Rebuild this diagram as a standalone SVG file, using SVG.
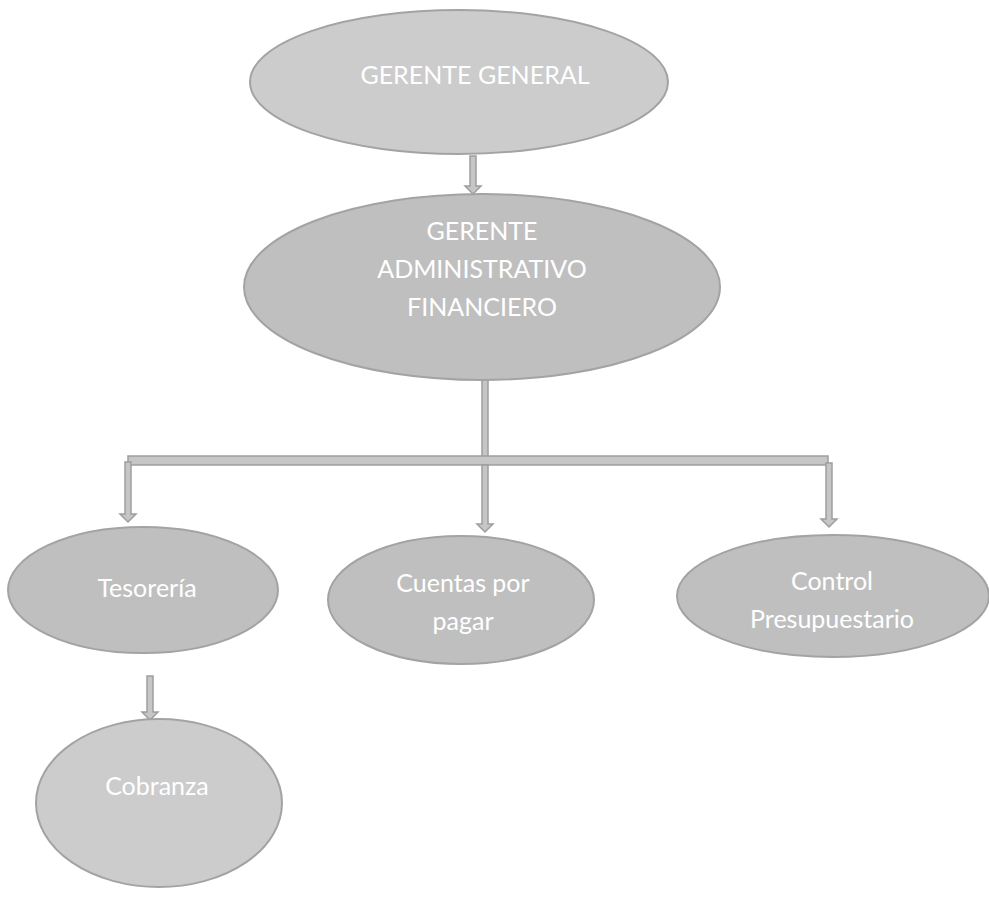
<svg xmlns="http://www.w3.org/2000/svg" width="989" height="903" viewBox="0 0 989 903">
  <style>
    .node { stroke: #a3a3a3; stroke-width: 2; }
    .light { fill: #cccccc; }
    .mid { fill: #bfbfbf; }
    .label { font-family: Lato, "Liberation Sans", sans-serif; font-size: 25px; fill: #ffffff; text-anchor: middle; }
    .conn { fill: #c6c6c6; stroke: #9e9e9e; stroke-width: 1.5; stroke-linejoin: miter; }
  </style>
  <rect width="989" height="903" fill="#ffffff"/>

  <!-- connectors -->
  <g id="connectors">
    <!-- general manager to administrative/financial manager -->
    <polygon class="conn" points="470,156 476,156 476,186 481,186 473,194 465,186 470,186"/>
    <!-- trunk down to the distribution bar -->
    <rect class="conn" x="482" y="374" width="6" height="83"/>
    <rect class="conn" x="128" y="456" width="700" height="9"/>
    <!-- branch arrows -->
    <polygon class="conn" points="125,462 131,462 131,514 136,514 128,522 120,514 125,514"/>
    <polygon class="conn" points="482,465 488,465 488,524 493,524 485,532 477,524 482,524"/>
    <polygon class="conn" points="826,463 832,463 832,519 837,519 829,527 821,519 826,519"/>
    <!-- treasury to collections -->
    <polygon class="conn" points="147,676 153,676 153,712 158,712 150,720 142,712 147,712"/>
  </g>

  <g id="gerente-general">
    <ellipse class="node light" cx="459" cy="82" rx="209" ry="72"/>
    <text class="label" x="475" y="84">GERENTE GENERAL</text>
  </g>

  <g id="gerente-administrativo">
    <ellipse class="node mid" cx="482" cy="287" rx="238" ry="93"/>
    <text class="label" x="482" y="240">GERENTE</text>
    <text class="label" x="482" y="278">ADMINISTRATIVO</text>
    <text class="label" x="482" y="316">FINANCIERO</text>
  </g>

  <g id="tesoreria">
    <ellipse class="node mid" cx="143" cy="590" rx="135" ry="63"/>
    <text class="label" x="147" y="597">Tesorería</text>
  </g>

  <g id="cuentas-por-pagar">
    <ellipse class="node mid" cx="461" cy="600" rx="133" ry="64"/>
    <text class="label" x="463" y="592">Cuentas por</text>
    <text class="label" x="463" y="630">pagar</text>
  </g>

  <g id="control-presupuestario">
    <ellipse class="node mid" cx="833" cy="596" rx="156" ry="61"/>
    <text class="label" x="832" y="590">Control</text>
    <text class="label" x="832" y="628">Presupuestario</text>
  </g>

  <g id="cobranza">
    <ellipse class="node light" cx="159" cy="803" rx="123" ry="84"/>
    <text class="label" x="157" y="795">Cobranza</text>
  </g>
</svg>
